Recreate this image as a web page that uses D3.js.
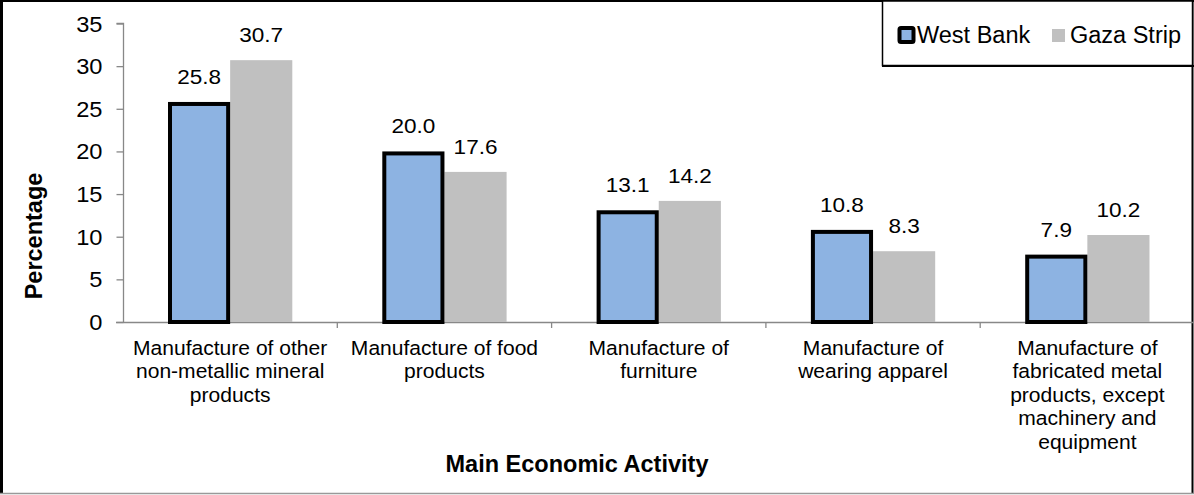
<!DOCTYPE html>
<html><head><meta charset="utf-8">
<script src="https://cdn.jsdelivr.net/npm/d3@7"></script>
<style>body{margin:0;background:#fff}svg{display:block}text{font-family:"Liberation Sans",Arial,sans-serif;fill:#000}</style>
</head><body><svg id="c" width="1194" height="495"></svg>
<script>
const categories = [
  ["Manufacture of other","non-metallic mineral","products"],
  ["Manufacture of food","products"],
  ["Manufacture of","furniture"],
  ["Manufacture of","wearing apparel"],
  ["Manufacture of","fabricated metal","products, except","machinery and","equipment"]
];
const seriesNames = ["West Bank","Gaza Strip"];
const westBank = [25.8, 20.0, 13.1, 10.8, 7.9];
const gazaStrip = [30.7, 17.6, 14.2, 8.3, 10.2];
const yTicks = [0,5,10,15,20,25,30,35];

const svg = d3.select("#c");
const W = 1194, H = 495;
const plotL = 123, plotR = 1194.5, y0 = 322, yTop = 23.5;

// frame
svg.append("line").attr("x1",1.5).attr("x2",1.5).attr("y1",0).attr("y2",494).attr("stroke","#000").attr("stroke-width",3);
svg.append("line").attr("x1",0).attr("x2",W).attr("y1",1).attr("y2",1).attr("stroke","#000").attr("stroke-width",2);
svg.append("line").attr("x1",1192.5).attr("x2",1192.5).attr("y1",0).attr("y2",494).attr("stroke","#000").attr("stroke-width",2);
svg.append("line").attr("x1",0).attr("x2",W).attr("y1",493.5).attr("y2",493.5).attr("stroke","#999").attr("stroke-width",1.5);

const idx = d3.range(categories.length);
const x = d3.scaleBand().domain(idx).range([plotL, plotR]).paddingInner(0).paddingOuter(0);
const y = d3.scaleLinear().domain([0,35]).range([y0, yTop]);
const barW = x.bandwidth()*0.29;

// y axis
const yAxis = d3.axisLeft(y).tickValues(yTicks).tickSize(7).tickPadding(0).tickFormat(d3.format("d"));
const ga = svg.append("g").attr("transform",`translate(${plotL+0.5},0)`).call(yAxis);
ga.attr("font-size",null).attr("font-family",null);
ga.select(".domain").attr("stroke","#888").attr("stroke-width",1.3).attr("d",`M-7,${yTop}H0V${y0}`);
ga.selectAll(".tick line").attr("stroke","#888").attr("stroke-width",1.3);
ga.selectAll(".tick text").attr("x",null).attr("dy",null).attr("y",7.5)
  .attr("transform","translate(-21,0) scale(1.1,1)")
  .style("font-size","21.5px").style("font-family","Liberation Sans, Arial, sans-serif").attr("fill","#000");

// x axis line + ticks
const gx = svg.append("g");
gx.append("line").attr("x1",plotL-7).attr("x2",plotR).attr("y1",y0+0.5).attr("y2",y0+0.5).attr("stroke","#888").attr("stroke-width",1.3);
gx.selectAll(".xt").data(idx.slice(1)).enter().append("line")
  .attr("x1",d=>x(d)).attr("x2",d=>x(d)).attr("y1",y0).attr("y2",y0+6).attr("stroke","#888").attr("stroke-width",1.3);

// bars
const gb = svg.append("g");
function label(px, py, s){
  svg.append("text").attr("transform",`translate(${px},${py}) scale(1.1,1)`).attr("text-anchor","middle").attr("font-size",20.5).text(s);
}
idx.forEach(i=>{
  const c = x(i)+x.bandwidth()/2;
  gb.append("rect").attr("x",c).attr("y",y(gazaStrip[i])).attr("width",barW).attr("height",y0-y(gazaStrip[i])).attr("fill","#C0C0C0");
  gb.append("rect").attr("x",c-barW+2).attr("y",y(westBank[i])+2).attr("width",barW-4).attr("height",y0-y(westBank[i])-2)
    .attr("fill","#8DB3E2").attr("stroke","#000").attr("stroke-width",4);
  label(c-barW/2, y(westBank[i])-18, westBank[i].toFixed(1));
  label(c+barW/2, y(gazaStrip[i])-18, gazaStrip[i].toFixed(1));
});

// category labels
idx.forEach(i=>{
  const c = x(i)+x.bandwidth()/2;
  const t = svg.append("text").attr("transform",`translate(${c},355) scale(1.08,1)`).attr("text-anchor","middle").attr("font-size",19.5);
  categories[i].forEach((ln,j)=>{
    t.append("tspan").attr("x",0).attr("y",j*23.4).text(ln);
  });
});

// axis titles
svg.append("text").attr("x",577).attr("y",472).attr("text-anchor","middle").attr("font-size",23.5).attr("font-weight","bold").text("Main Economic Activity");
svg.append("text").attr("transform","translate(42,236) rotate(-90)").attr("text-anchor","middle").attr("font-size",23.5).attr("font-weight","bold").text("Percentage");

// legend
const lg = svg.append("g");
lg.append("rect").attr("x",882.5).attr("y",1).attr("width",310).attr("height",64.5).attr("fill","#fff").attr("stroke","#000").attr("stroke-width",1.5);
lg.append("line").attr("x1",882).attr("x2",1194).attr("y1",66).attr("y2",66).attr("stroke","#000").attr("stroke-width",2);
lg.append("rect").attr("x",899.5).attr("y",28).attr("width",14).attr("height",14).attr("fill","#8DB3E2").attr("stroke","#000").attr("stroke-width",4).attr("rx",1.5);
lg.append("text").attr("x",917).attr("y",42.5).attr("font-size",23.5).text(seriesNames[0]);
lg.append("rect").attr("x",1052).attr("y",29).attr("width",13).attr("height",13).attr("fill","#C0C0C0");
lg.append("text").attr("x",1070).attr("y",42.5).attr("font-size",23.5).text(seriesNames[1]);
</script></body></html>
